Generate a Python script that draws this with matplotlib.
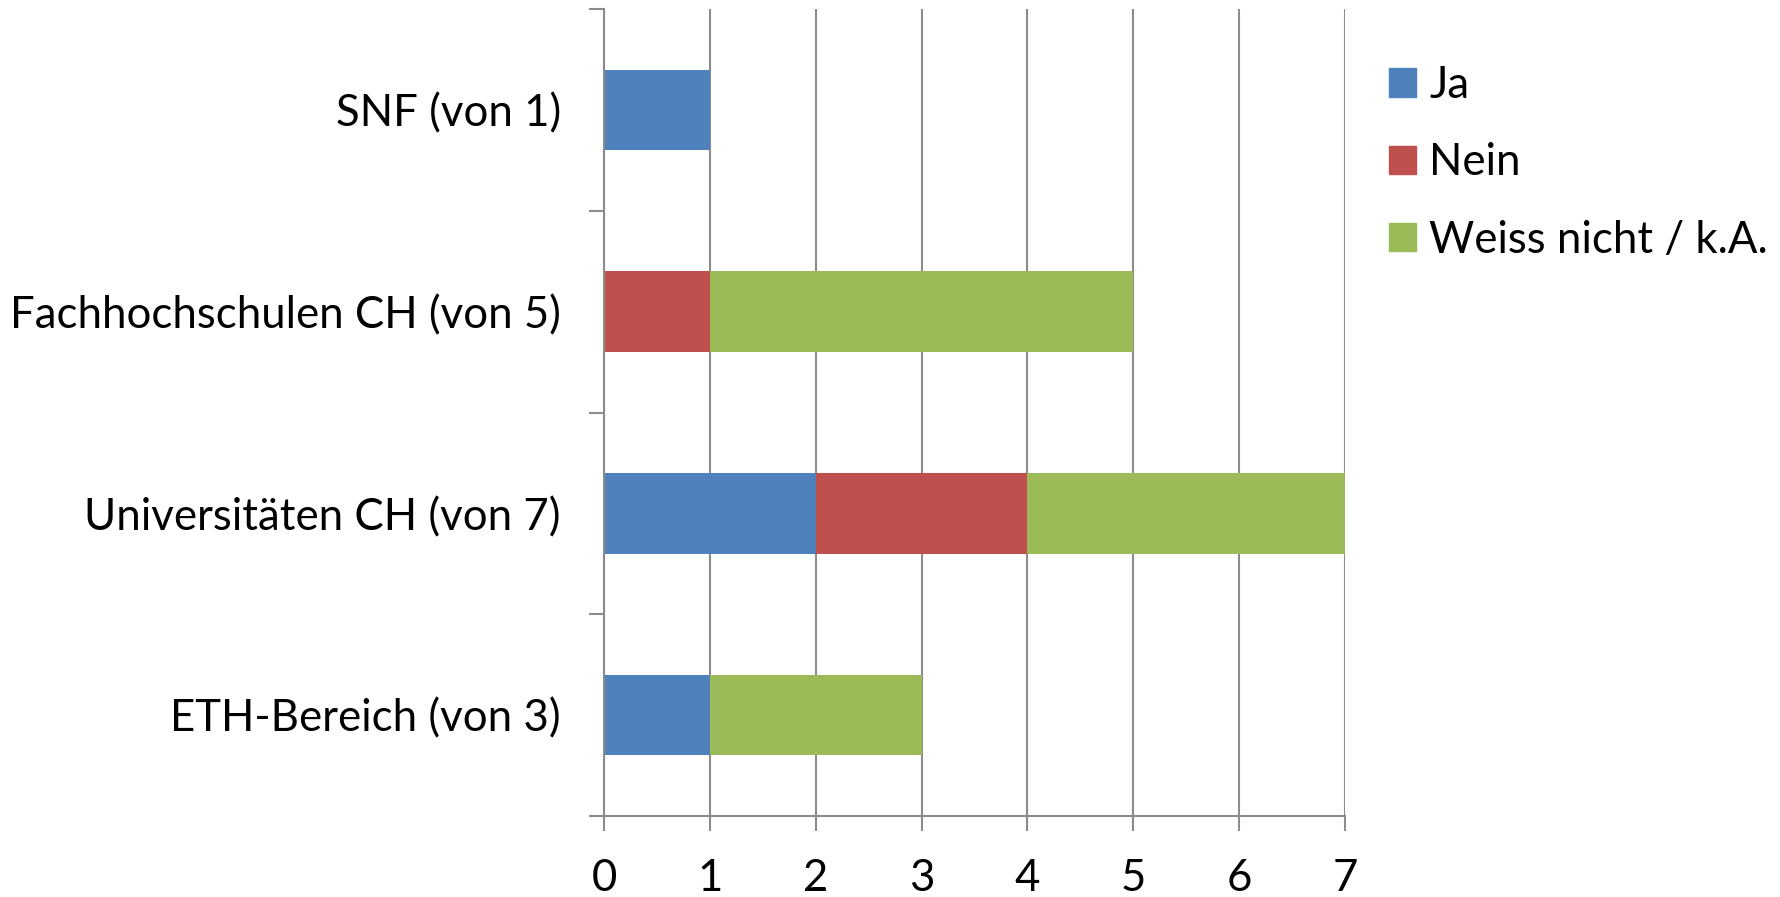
import numpy as np
import matplotlib.pyplot as plt
from matplotlib.patches import Patch

categories = ["ETH-Bereich (von 3)", "Universitäten CH (von 7)",
              "Fachhochschulen CH (von 5)", "SNF (von 1)"]
ja = [1, 2, 0, 1]
nein = [0, 2, 1, 0]
weiss = [2, 3, 4, 0]
series_names = ["Ja", "Nein", "Weiss nicht / k.A."]
colors = ["#4F81BD", "#C0504D", "#9BBB59"]

plt.rcParams['font.family'] = ['Lato', 'DejaVu Sans']

fig = plt.figure(figsize=(17.81, 8.97), dpi=100)
ax = fig.add_axes([604 / 1781, 1 - 816 / 897, (1345 - 604) / 1781, (816 - 9) / 897])

y = np.arange(len(categories))
left = np.zeros(len(categories))
for vals, name, c in zip([ja, nein, weiss], series_names, colors):
    ax.barh(y, vals, left=left, height=0.4, color=c, label=name, zorder=2)
    left += np.array(vals)

ax.set_xlim(0, 7)
ax.set_ylim(-0.5, len(categories) - 0.5)
ax.set_xticks(range(8))
ax.set_yticks(y)
ax.set_yticklabels(categories)
ax.set_yticks(np.arange(-0.5, len(categories)), minor=True)

grid_c = "#8C8C8C"
ax.grid(axis="x", color=grid_c, linewidth=1.5, zorder=0)
ax.set_axisbelow(True)
for s in ["top", "right"]:
    ax.spines[s].set_visible(False)
for s in ["left", "bottom"]:
    ax.spines[s].set_color(grid_c)
    ax.spines[s].set_linewidth(1.5)

fs = 31.5
ax.tick_params(axis="y", which="major", length=0, pad=31, labelsize=fs)
ax.tick_params(axis="y", which="minor", length=11, width=1.5, color=grid_c)
ax.tick_params(axis="x", length=11, width=1.5, color=grid_c, pad=19, labelsize=fs)

handles = [Patch(color=c) for c in colors]
fig.legend(handles, series_names, loc="upper left",
           bbox_to_anchor=(1389 / 1781, 1 - 65 / 897), frameon=False,
           fontsize=fs, handlelength=0.62, handleheight=0.62,
           handletextpad=0.3, labelspacing=0.83, borderaxespad=0, borderpad=0)

plt.savefig("out.png", dpi=100)
plt.close()
